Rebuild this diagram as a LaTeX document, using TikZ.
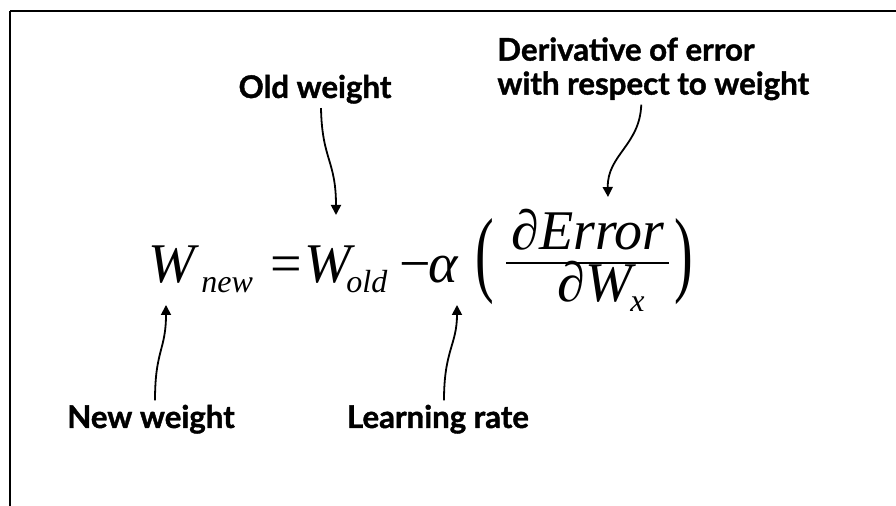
\documentclass[tikz,border=0pt]{standalone}
\usepackage{fontspec}
\setmainfont{Liberation Serif}
\newfontfamily\lblfont{Lato}[BoldFeatures={FakeBold=1.3}]
\usetikzlibrary{positioning, arrows.meta}

\begin{document}
\begin{tikzpicture}[x=0.5pt, y={(0pt,-0.5pt)},
  lbl/.style={font=\lblfont\bfseries\fontsize{15.6}{17}\selectfont, inner sep=2pt},
  eq/.style={font=\itshape\fontsize{28}{30}\selectfont, inner sep=0pt, anchor=base west},
  equp/.style={font=\fontsize{28}{30}\selectfont, inner sep=0pt, anchor=base west},
  sub/.style={font=\itshape\fontsize{16}{18}\selectfont, inner sep=0pt, anchor=base west},
  arr/.style={-{Triangle[width=5pt,length=5pt]}, line width=0.9pt},
  frame/.style={line width=1pt}
]
\useasboundingbox (0,0) rectangle (896,506);
\draw[frame] (10,506) -- (10,11);
\draw[line width=0.6pt] (10,11) -- (896,11);

% formula
\node[eq] (wnew) at (148,283) {W};
\node[sub] (snew) at (201,293) {new};
\node[equp] (eqs) at (270,283) {=};
\node[eq] (wold) at (304,283) {W};
\node[sub] (sold) at (346,293) {old};
\node[equp] (minus) at (399,283) {−};
\node[eq] (alpha) at (428,283) {α};
\node[equp] (lpar) at (475,285) {\scalebox{1}[1.7]{(}};
\node[eq, anchor=base] (num) at (588,250) {∂Error};
\node[eq] (den) at (557,302) {∂W};
\node[sub] (sx) at (630,312) {x};
\draw[line width=1pt] (506,263) -- (669,263);
\node[equp] (rpar) at (674,285) {\scalebox{1}[1.7]{)}};

% labels
\node[lbl, anchor=base] (oldlbl) at (315,98) {Old weight};
\node[lbl, anchor=north west, align=left] (derivlbl) at (493,33) {Derivative of error\\with respect to weight};
\node[lbl, anchor=base] (newlbl) at (151,428) {New weight};
\node[lbl, anchor=base] (lrlbl) at (438,428) {Learning rate};

\coordinate (oldtip) at (336,215);
\coordinate (derivtip) at (608,197);
\coordinate (newtip) at (166,305);
\coordinate (lrtip) at (457,305);

\draw[arr] ([xshift=3pt]oldlbl.south) .. controls (322,160) and (336,160) .. (oldtip);
\draw[arr] ([xshift=-6pt]derivlbl.south) .. controls (640,145) and (607,155) .. (derivtip);
\draw[arr] ([xshift=2pt]newlbl.north) .. controls (155,350) and (166,350) .. (newtip);
\draw[arr] ([xshift=3pt]lrlbl.north) .. controls (444,350) and (457,345) .. (lrtip);
\end{tikzpicture}
\end{document}
